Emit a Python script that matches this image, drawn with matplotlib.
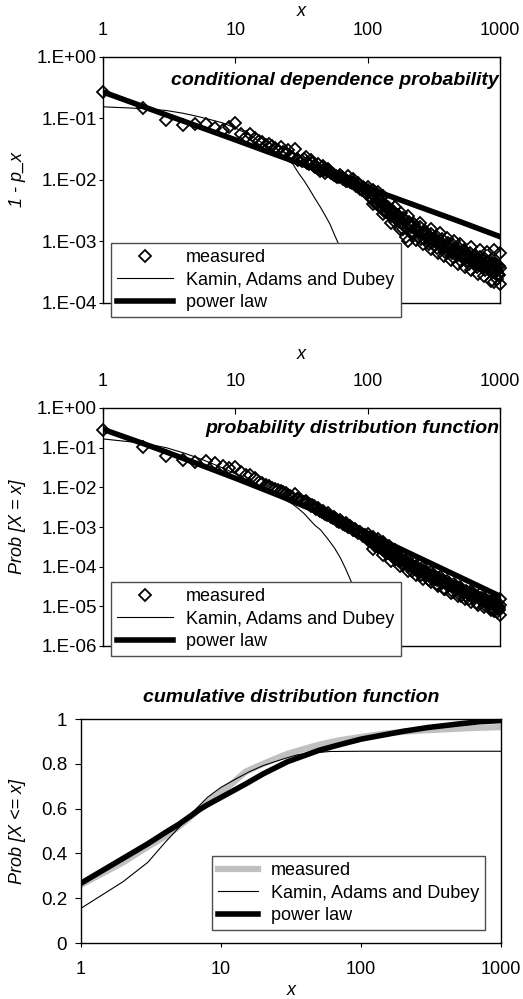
import numpy as np
import matplotlib
matplotlib.use("Agg")
import matplotlib.pyplot as plt
from matplotlib.ticker import FixedLocator, FuncFormatter, NullLocator

plt.rcParams['font.family'] = ['Liberation Sans', 'DejaVu Sans']

# ---- measured 1 - p_x and Prob[X = x] ----
x_head = list(range(1, 31))
cdp_head = [0.27, 0.146, 0.095, 0.078, 0.080, 0.081, 0.071, 0.065, 0.074, 0.083,
            0.055, 0.050, 0.057, 0.048, 0.043, 0.041, 0.037, 0.039, 0.036, 0.033,
            0.031, 0.035, 0.029, 0.027, 0.031, 0.025, 0.024, 0.032, 0.022, 0.021]
pdf_head = [0.28, 0.106, 0.060, 0.048, 0.043, 0.047, 0.041, 0.034, 0.030, 0.033,
            0.025, 0.0205, 0.0205, 0.017, 0.014, 0.0125, 0.0115, 0.0105, 0.0098, 0.0092,
            0.0086, 0.0080, 0.0075, 0.0070, 0.0065, 0.0062, 0.0058, 0.0068, 0.0052, 0.0050]

x_tail = [32, 34, 36, 38, 40, 42, 44, 46, 48, 50, 53, 56, 59, 62, 65, 68, 71, 74, 77, 80,
          84, 88, 92, 96, 100, 105, 110, 115, 120, 125, 130, 136, 142, 148, 155, 162, 170,
          178, 186, 195, 205, 215, 225, 236, 248, 260, 273, 287, 301, 316, 332, 348, 365,
          383, 402, 422, 443, 465, 488, 512, 537, 563, 590, 618, 647, 677, 708, 740, 773,
          807, 842, 878, 915, 953, 990]
cdp_tail = [0.020, 0.024, 0.018, 0.019, 0.016, 0.018, 0.014, 0.017, 0.013, 0.015,
            0.013, 0.012, 0.011, 0.012, 0.0105, 0.0098, 0.0115, 0.0092, 0.0105, 0.0085,
            0.0088, 0.0072, 0.0078, 0.0064, 0.0068, 0.0052, 0.0058, 0.0044, 0.0049, 0.0038,
            0.0043, 0.0031, 0.0036, 0.0027, 0.0031, 0.0024, 0.0027, 0.0021, 0.0024, 0.0012,
            0.0021, 0.0017, 0.0019, 0.0015, 0.0017, 0.0013, 0.0015, 0.0012, 0.0013, 0.0010,
            0.0012, 0.00095, 0.0011, 0.00085, 0.00095, 0.00075, 0.00088, 0.00068, 0.00078, 0.00060,
            0.00072, 0.00055, 0.00065, 0.00050, 0.00060, 0.00047, 0.00055, 0.00042, 0.00052, 0.00039,
            0.00048, 0.00036, 0.00045, 0.00033, 0.00040]
pdf_tail = [4.6e-3, 4.4e-3, 3.7e-3, 3.6e-3, 3.0e-3, 3.1e-3, 2.5e-3, 2.6e-3, 2.1e-3, 2.2e-3,
            1.8e-3, 1.8e-3, 1.45e-3, 1.5e-3, 1.2e-3, 1.25e-3, 1.0e-3, 1.05e-3, 8.5e-4, 9.0e-4,
            7.0e-4, 7.5e-4, 5.8e-4, 6.2e-4, 4.8e-4, 5.0e-4, 3.9e-4, 4.1e-4, 3.2e-4, 3.4e-4,
            2.6e-4, 2.8e-4, 2.2e-4, 2.3e-4, 1.8e-4, 1.9e-4, 1.5e-4, 1.6e-4, 1.25e-4, 1.3e-4,
            1.05e-4, 1.1e-4, 8.8e-5, 9.2e-5, 7.4e-5, 7.8e-5, 6.3e-5, 6.6e-5, 5.3e-5, 5.6e-5,
            4.5e-5, 4.8e-5, 3.9e-5, 4.1e-5, 3.4e-5, 3.5e-5, 2.9e-5, 3.0e-5, 2.5e-5, 2.6e-5,
            2.2e-5, 2.3e-5, 1.9e-5, 2.0e-5, 1.7e-5, 1.75e-5, 1.5e-5, 1.55e-5, 1.3e-5, 1.4e-5,
            1.15e-5, 1.25e-5, 1.0e-5, 1.1e-5, 9.0e-6]

# more points inside the dense part of the tail
x_fill = [33, 35, 37, 39, 41, 43, 45, 47, 49, 52, 55, 58, 61, 64, 67, 70, 73, 76, 79,
          82, 86, 90, 94, 98, 102, 107, 112, 117, 122, 127, 133, 139, 145, 151, 158, 166,
          174, 182, 190, 200, 210, 220, 230, 242, 254, 266, 280, 294, 308, 324, 340, 356,
          374, 392, 412, 432, 454, 476, 500, 524, 550, 576, 604, 632, 662, 692, 724, 756,
          790, 824, 860, 896, 934, 972, 1000]
cdp_fill = [0.022, 0.019, 0.021, 0.017, 0.017, 0.015, 0.016, 0.0145, 0.014, 0.0135,
            0.0125, 0.0118, 0.011, 0.0112, 0.0102, 0.0098, 0.0095, 0.0088, 0.0090,
            0.0079, 0.0083, 0.0068, 0.0074, 0.0059, 0.0063, 0.0050, 0.0054, 0.0041, 0.0046,
            0.0035, 0.0039, 0.0030, 0.0033, 0.0026, 0.0029, 0.0022, 0.0025, 0.0019, 0.0022,
            0.0016, 0.0019, 0.0014, 0.0016, 0.0012, 0.0014, 0.0011, 0.0013, 0.00098, 0.0011,
            0.00088, 0.00100, 0.00080, 0.00090, 0.00072, 0.00082, 0.00065, 0.00074, 0.00059,
            0.00068, 0.00053, 0.00062, 0.00048, 0.00057, 0.00045, 0.00052, 0.00041, 0.00049,
            0.00038, 0.00046, 0.00035, 0.00043, 0.00032, 0.00041, 0.00030, 0.00037]
pdf_fill = [4.2e-3, 4.0e-3, 3.4e-3, 3.3e-3, 2.8e-3, 2.7e-3, 2.4e-3, 2.3e-3, 2.05e-3, 1.9e-3,
            1.65e-3, 1.55e-3, 1.35e-3, 1.3e-3, 1.15e-3, 1.1e-3, 9.8e-4, 9.5e-4, 8.5e-4,
            8.0e-4, 7.6e-4, 6.5e-4, 6.3e-4, 5.3e-4, 5.4e-4, 4.4e-4, 4.5e-4, 3.6e-4, 3.8e-4,
            3.0e-4, 3.2e-4, 2.5e-4, 2.6e-4, 2.1e-4, 2.2e-4, 1.75e-4, 1.8e-4, 1.45e-4, 1.5e-4,
            1.2e-4, 1.25e-4, 1.0e-4, 1.05e-4, 8.3e-5, 8.6e-5, 7.0e-5, 7.2e-5, 5.9e-5, 6.1e-5,
            5.0e-5, 5.2e-5, 4.3e-5, 4.5e-5, 3.7e-5, 3.8e-5, 3.2e-5, 3.3e-5, 2.7e-5, 2.8e-5,
            2.35e-5, 2.45e-5, 2.05e-5, 2.15e-5, 1.8e-5, 1.85e-5, 1.6e-5, 1.65e-5, 1.4e-5,
            1.45e-5, 1.25e-5, 1.3e-5, 1.1e-5, 1.15e-5, 9.5e-6, 1.05e-5]

x_fill2 = [104, 114, 124, 135, 147, 160, 172, 186, 202, 218, 235, 252, 270, 290, 312, 335,
           360, 386, 414, 444, 476, 510, 546, 585, 626, 670, 716, 766, 818, 874, 932, 985]
cdp_fill2 = [0.0064, 0.0043, 0.0045, 0.0030, 0.0031, 0.0021, 0.0024, 0.0016, 0.0019, 0.0013,
             0.0016, 0.0011, 0.0013, 0.00092, 0.00106, 0.00077, 0.00092, 0.00067, 0.00078,
             0.00056, 0.00067, 0.00049, 0.00058, 0.00043, 0.00052, 0.00039, 0.00047, 0.00035,
             0.00043, 0.00032, 0.00038, 0.00028]
pdf_fill2 = [5.3e-4, 3.3e-4, 3.8e-4, 2.3e-4, 2.6e-4, 1.57e-4, 1.78e-4, 1.1e-4, 1.27e-4, 8.0e-5,
             9.4e-5, 6.1e-5, 7.2e-5, 4.7e-5, 5.5e-5, 3.6e-5, 4.3e-5, 2.8e-5, 3.4e-5, 2.25e-5,
             2.75e-5, 1.83e-5, 2.25e-5, 1.5e-5, 1.84e-5, 1.23e-5, 1.55e-5, 1.06e-5, 1.32e-5,
             9.2e-6, 1.17e-5, 8.2e-6]

# points at the upper and lower edges of the tail band
x_band = [100, 110, 120, 130, 145, 160, 180, 200, 250, 300, 350, 400, 450, 500, 600, 700,
          800, 900, 1000, 110, 130, 150, 175, 200, 230, 260, 300, 340, 380, 430, 480, 540,
          600, 680, 760, 850, 900, 950, 1000]
cdp_band = [7.6e-3, 7.0e-3, 6.3e-3, 5.5e-3, 4.5e-3, 3.6e-3, 2.9e-3, 2.6e-3, 2.0e-3, 1.6e-3,
            1.35e-3, 1.15e-3, 1.0e-3, 9.0e-4, 8.0e-4, 7.2e-4, 6.8e-4, 7.3e-4, 6.5e-4,
            4.0e-3, 2.8e-3, 2.0e-3, 1.6e-3, 1.0e-3, 1.05e-3, 9.0e-4, 7.5e-4, 6.5e-4, 5.8e-4,
            5.0e-4, 4.3e-4, 3.8e-4, 3.4e-4, 3.0e-4, 2.7e-4, 2.3e-4, 2.2e-4, 2.5e-4, 2.0e-4]
pdf_band = [6.8e-4, 5.6e-4, 5.0e-4, 4.2e-4, 3.3e-4, 2.7e-4, 2.1e-4, 1.8e-4, 1.1e-4, 7.5e-5,
            5.6e-5, 4.4e-5, 3.6e-5, 3.1e-5, 2.5e-5, 2.1e-5, 1.8e-5, 1.6e-5, 1.5e-5,
            2.8e-4, 2.0e-4, 1.4e-4, 1.05e-4, 8.0e-5, 6.3e-5, 5.0e-5, 4.0e-5, 3.2e-5, 2.7e-5,
            2.2e-5, 1.8e-5, 1.5e-5, 1.3e-5, 1.1e-5, 9.5e-6, 8.0e-6, 7.5e-6, 7.0e-6, 6.0e-6]

# ---- Kamin, Adams and Dubey model ----
kad_x1 = [1, 2, 3, 4, 5, 6, 8, 10, 12, 14, 16, 18, 20, 22, 24, 27, 30, 33, 36, 40, 44,
          48, 52, 56, 60, 65, 70, 80, 90, 100]
kad_y1 = [0.155, 0.145, 0.135, 0.122, 0.11, 0.10, 0.085, 0.07, 0.058, 0.048, 0.04, 0.034,
          0.029, 0.026, 0.023, 0.0187, 0.013, 0.0098, 0.0073, 0.0050, 0.0036, 0.0026,
          0.0019, 0.0013, 0.00093, 0.0006, 0.0004, 0.00016, 0.00006, 0.00002]
kad_x2 = [1, 2, 3, 4, 5, 6, 8, 10, 12, 15, 18, 21, 24, 27, 30, 33, 36, 40, 44, 50, 56,
          62, 68, 74, 80, 90, 100]
kad_y2 = [0.166, 0.13, 0.10, 0.075, 0.058, 0.046, 0.031, 0.022, 0.016, 0.011, 0.0082,
          0.0063, 0.0049, 0.0038, 0.0029, 0.0022, 0.0016, 0.0011, 8.5e-4, 5e-4, 3e-4,
          1.7e-4, 9e-5, 4.7e-5, 2.5e-5, 8e-6, 2.5e-6]
kad_x3 = [1, 2, 3, 4, 5, 6, 8, 10, 13, 16, 20, 25, 30, 35, 44, 60, 100, 1000]
kad_y3 = [0.155, 0.274, 0.36, 0.45, 0.515, 0.571, 0.65, 0.695, 0.735, 0.765, 0.792,
          0.812, 0.828, 0.84, 0.848, 0.855, 0.856, 0.856]

# ---- power law fit ----
pl_x1 = [1, 2, 5, 10, 20, 50, 100, 200, 500, 1000]
pl_y1 = [0.27, 0.157, 0.077, 0.045, 0.026, 0.0128, 0.0074, 0.0043, 0.0021, 0.0012]
pl_x2 = [1, 2, 3, 5, 10, 22, 50, 100, 200, 500, 1000]
pl_y2 = [0.29, 0.128, 0.078, 0.041, 0.017, 0.006, 0.0019, 6.9e-4, 2.3e-4, 5.4e-5, 1.8e-5]
pl_x3 = [1, 2, 3, 4, 5, 6, 7, 8, 10, 15, 20, 30, 50, 70, 100, 200, 300, 500, 700, 1000]
pl_y3 = [0.267, 0.378, 0.443, 0.493, 0.53, 0.565, 0.595, 0.617, 0.65, 0.71, 0.755, 0.81,
         0.86, 0.885, 0.91, 0.945, 0.962, 0.978, 0.988, 0.993]

# ---- measured CDF ----
cdf_x = [1, 2, 3, 4, 5, 6, 7, 8, 10, 12, 15, 20, 25, 30, 40, 50, 70, 100, 150, 200,
         280, 500, 700, 1000]
cdf_meas = [0.26, 0.36, 0.43, 0.475, 0.52, 0.56, 0.597, 0.627, 0.675, 0.712, 0.765, 0.80,
            0.825, 0.845, 0.868, 0.885, 0.905, 0.92, 0.935, 0.943, 0.949, 0.957, 0.961, 0.964]

W, H = 523, 999
fig = plt.figure(figsize=(W / 100, H / 100), dpi=100)

def box(l, t, r, b):
    return [l / W, 1 - b / H, (r - l) / W, (b - t) / H]

xticks = [1, 10, 100, 1000]
xfmt = FuncFormatter(lambda v, _: f"{int(round(v))}")
efmt = FuncFormatter(lambda v, _: f"1.E{int(round(np.log10(v))):+03d}")

def log_panel(ax, ymin, label, title, ty, xpad):
    ax.set_xscale('log')
    ax.set_yscale('log')
    ax.set_xlim(1, 1000)
    ax.set_ylim(ymin, 1)
    ax.xaxis.set_major_locator(FixedLocator(xticks))
    ax.xaxis.set_major_formatter(xfmt)
    ax.xaxis.set_minor_locator(NullLocator())
    ax.yaxis.set_major_locator(FixedLocator([10.0 ** k for k in range(int(np.log10(ymin)), 1)]))
    ax.yaxis.set_major_formatter(efmt)
    ax.yaxis.set_minor_locator(NullLocator())
    ax.xaxis.tick_top()
    ax.xaxis.set_label_position('top')
    ax.tick_params(axis='x', direction='in', length=4, pad=13, labelsize=13)
    ax.tick_params(axis='y', direction='out', length=3, pad=1.5, labelsize=13.5)
    ax.set_xlabel('x', fontsize=13, style='italic', labelpad=xpad)
    ax.set_ylabel(label, fontsize=13, style='italic')
    ax.yaxis.set_label_coords(-0.195, 0.5)
    ax.text(0.998, ty, title, transform=ax.transAxes, ha='right', va='center',
            fontsize=14, fontweight='bold', style='italic')

leg_kw = dict(loc='upper left', fontsize=13, frameon=True, fancybox=False,
              edgecolor='0.3', framealpha=1, borderaxespad=0, borderpad=0.35,
              labelspacing=0.3, handletextpad=0.7)

mk = dict(ls='none', marker='D', ms=6.5, mfc='none', mec='black', mew=1.3, clip_on=False)

# ---- panel 1 ----
ax1 = fig.add_axes(box(103, 57, 500, 303))
log_panel(ax1, 1e-4, '1 - p_x', 'conditional dependence probability', 0.905, 4.5)
ax1.plot(x_head + x_tail + x_fill + x_fill2 + x_band,
         cdp_head + cdp_tail + cdp_fill + cdp_fill2 + cdp_band, label='measured', **mk)
ax1.plot(kad_x1, kad_y1, color='black', lw=0.8, label='Kamin, Adams and Dubey')
ax1.plot(pl_x1, pl_y1, color='black', lw=4, label='power law')
lg = ax1.legend(bbox_to_anchor=(111 / W, 1 - 243 / H), bbox_transform=fig.transFigure,
                handlelength=3.1, **leg_kw)
lg.get_frame().set_linewidth(1.0)

# ---- panel 2 ----
ax2 = fig.add_axes(box(103, 408, 500, 646))
log_panel(ax2, 1e-6, 'Prob [X = x]', 'probability distribution function', 0.915, 10)
ax2.plot(x_head + x_tail + x_fill + x_fill2 + x_band,
         pdf_head + pdf_tail + pdf_fill + pdf_fill2 + pdf_band, label='measured', **mk)
ax2.plot(kad_x2, kad_y2, color='black', lw=0.8, label='Kamin, Adams and Dubey')
ax2.plot(pl_x2, pl_y2, color='black', lw=4, label='power law')
lg = ax2.legend(bbox_to_anchor=(111 / W, 1 - 582 / H), bbox_transform=fig.transFigure,
                handlelength=3.1, **leg_kw)
lg.get_frame().set_linewidth(1.0)

# ---- panel 3 ----
ax3 = fig.add_axes(box(81, 719, 501, 943))
ax3.set_xscale('log')
ax3.set_xlim(1, 1000)
ax3.set_ylim(0, 1)
ax3.xaxis.set_major_locator(FixedLocator(xticks))
ax3.xaxis.set_major_formatter(xfmt)
ax3.xaxis.set_minor_locator(NullLocator())
ax3.set_yticks([0, 0.2, 0.4, 0.6, 0.8, 1.0])
ax3.yaxis.set_major_formatter(FuncFormatter(lambda v, _: f"{v:g}"))
ax3.tick_params(axis='x', direction='out', length=3, pad=10, labelsize=13)
ax3.tick_params(axis='y', direction='out', length=4, pad=6, labelsize=13.5)
ax3.set_xlabel('x', fontsize=13, style='italic', labelpad=3)
ax3.set_ylabel('Prob [X <= x]', fontsize=13, style='italic')
ax3.yaxis.set_label_coords(-0.13, 0.5)
ax3.set_title('cumulative distribution function', fontsize=14, fontweight='bold',
              style='italic', pad=12)
ax3.plot(cdf_x, cdf_meas, color='#c0c0c0', lw=4.5, label='measured')
ax3.plot(kad_x3, kad_y3, color='black', lw=0.8, label='Kamin, Adams and Dubey')
ax3.plot(pl_x3, pl_y3, color='black', lw=4, label='power law')
lg = ax3.legend(bbox_to_anchor=(212 / W, 1 - 856 / H), bbox_transform=fig.transFigure,
                handlelength=2.2, **leg_kw)
lg.get_frame().set_linewidth(1.0)

for ax in (ax1, ax2, ax3):
    for s in ax.spines.values():
        s.set_linewidth(1.0)

fig.savefig('out.png', dpi=100)
